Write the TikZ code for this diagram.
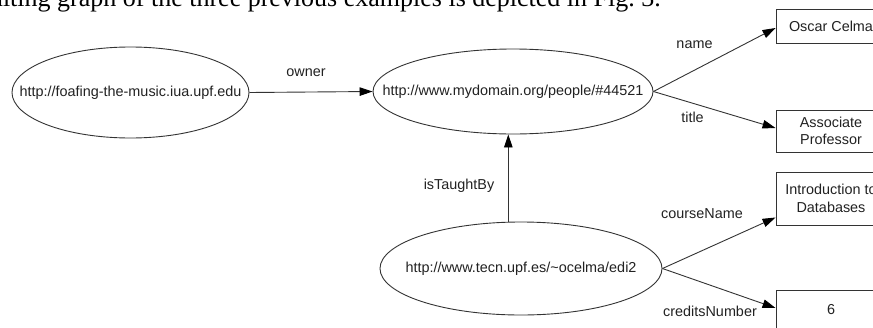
\documentclass[tikz,border=0pt]{standalone}
\usepackage{fontspec}
\setmainfont{Liberation Sans}
\newfontfamily\bodyserif{Liberation Serif}
\usetikzlibrary{shapes.geometric,arrows.meta}
\definecolor{ln}{HTML}{333333}
\definecolor{tx}{HTML}{222222}
\begin{document}
\begin{tikzpicture}[x=1pt,y=-1pt,
  every node/.style={font=\fontsize{14.4}{17.5}\selectfont, text=tx},
  res/.style={draw=ln, line width=0.9pt, ellipse, inner sep=0pt},
  lit/.style={draw=ln, line width=0.9pt, rectangle, inner sep=0pt, minimum width=110pt, align=center},
  arr/.style={draw=ln, line width=0.9pt, -{Triangle[length=13pt,width=8.5pt,color=black]}},
  lab/.style={inner sep=0pt}]
\useasboundingbox (0,0) rectangle (873,327);
\clip (0,0) rectangle (873,327);
\fill[white] (0,0) rectangle (873,327);
\node[anchor=base east, font=\bodyserif\fontsize{26}{30}\selectfont, text=black, inner sep=0pt] (cap) at (661,6.5) {resulting graph of the three previous examples is depicted in Fig.~3.};
% resources
\node[res, minimum width=237pt, minimum height=91pt, label={[lab]center:http://foafing-the-music.iua.upf.edu}] (e1) at (130.5,92.5) {};
\node[res, minimum width=280pt, minimum height=85pt, label={[lab]center:http://www.mydomain.org/people/\#44521}] (e2) at (513,91.5) {};
\node[res, minimum width=282pt, minimum height=93pt, label={[lab]center:http://www.tecn.upf.es/\textasciitilde ocelma/edi2}] (e3) at (521,268.5) {};
% literals
\node[lit, minimum height=34pt] (b1) at (831,26) {Oscar Celma};
\node[lit, minimum height=42pt] (b2) at (831,131) {Associate\\Professor};
\node[lit, minimum height=53pt] (b3) at (831,198.5) {Introduction to\\Databases};
\node[lit, minimum height=40pt] (b4) at (831,310) {6};
% connectors
\coordinate (tx) at (508.3,0);
\draw[arr] (e1.east) -- (e2.west);
\draw[arr] (e3.north -| tx) -- (e2.south -| tx);
\draw[arr] (e2.east) -- ([yshift=-2pt]b1.west);
\draw[arr] (e2.east) -- ([yshift=3pt]b2.west);
\draw[arr] (e3.east) -- ([yshift=-19pt]b3.west);
\draw[arr] (e3.east) -- ([yshift=2pt]b4.west);
% labels
\node[lab] (lo) at (306,73) {owner};
\node[lab] (lt) at (459,186) {isTaughtBy};
\node[lab] (ln) at (694.5,45) {name};
\node[lab] (lti) at (692.5,117) {title};
\node[lab] (lc) at (702,214) {courseName};
\node[lab] (lcr) at (710,311) {creditsNumber};
\end{tikzpicture}
\end{document}
